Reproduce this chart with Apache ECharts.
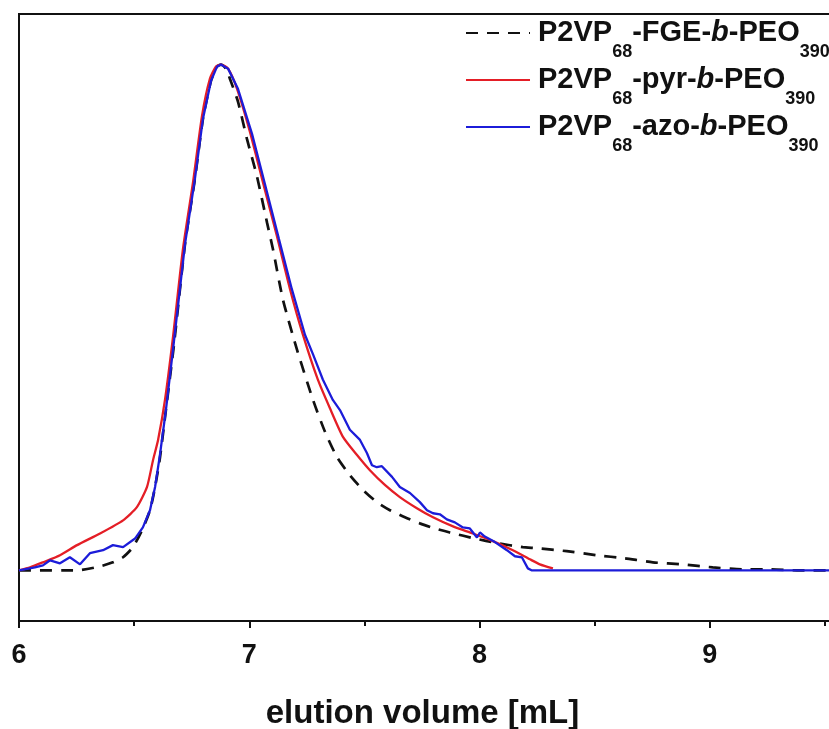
<!DOCTYPE html>
<html>
<head>
<meta charset="utf-8">
<script src="https://cdn.jsdelivr.net/npm/echarts@6/dist/echarts.min.js"></script>
<style>
  html, body { margin: 0; padding: 0; background: #ffffff; }
  #chart { width: 829px; height: 729px; }
</style>
</head>
<body>
<div id="chart"></div>
<script>
// SEC traces, normalised detector signal vs. elution volume (mL)
const seriesNames = ['P2VP68-FGE-b-PEO390', 'P2VP68-pyr-b-PEO390', 'P2VP68-azo-b-PEO390'];

const fgeVolume = [6.000, 6.050, 6.252, 6.352, 6.408, 6.452, 6.495, 6.538, 6.569, 6.591, 6.612, 6.638, 6.673, 6.721, 6.764, 6.799, 6.834, 6.860, 6.877, 6.899, 6.916, 6.951, 6.990, 7.033, 7.077, 7.103, 7.146, 7.207, 7.277, 7.329, 7.381, 7.437, 7.494, 7.554, 7.611, 7.676, 7.741, 7.806, 7.871, 7.980, 8.076, 8.188, 8.249, 8.379, 8.510, 8.631, 8.753, 8.883, 9.013, 9.144, 9.261, 9.391, 9.517, 10.000];
const fgeSignal = [0.000, 0.000, 0.000, 0.008, 0.016, 0.026, 0.046, 0.083, 0.119, 0.165, 0.222, 0.317, 0.446, 0.645, 0.774, 0.893, 0.968, 0.996, 1.000, 0.992, 0.972, 0.927, 0.853, 0.780, 0.688, 0.635, 0.536, 0.437, 0.337, 0.274, 0.224, 0.188, 0.159, 0.135, 0.119, 0.105, 0.093, 0.083, 0.075, 0.063, 0.054, 0.046, 0.044, 0.038, 0.030, 0.024, 0.016, 0.012, 0.006, 0.002, 0.002, 0.000, 0.000, 0.000];

const pyrVolume = [6.000, 6.048, 6.104, 6.178, 6.252, 6.352, 6.452, 6.512, 6.556, 6.582, 6.604, 6.634, 6.669, 6.712, 6.756, 6.795, 6.829, 6.855, 6.877, 6.908, 6.947, 7.003, 7.059, 7.120, 7.177, 7.233, 7.298, 7.350, 7.407, 7.468, 7.524, 7.589, 7.654, 7.728, 7.798, 7.885, 7.971, 8.058, 8.145, 8.219, 8.262, 8.319];
const pyrSignal = [0.000, 0.006, 0.016, 0.030, 0.050, 0.073, 0.099, 0.125, 0.165, 0.218, 0.258, 0.337, 0.462, 0.635, 0.768, 0.899, 0.972, 0.996, 1.000, 0.992, 0.952, 0.867, 0.768, 0.661, 0.556, 0.466, 0.377, 0.321, 0.264, 0.228, 0.198, 0.169, 0.145, 0.123, 0.105, 0.087, 0.073, 0.058, 0.040, 0.022, 0.012, 0.004];

const azoVolume = [6.000, 6.069, 6.104, 6.135, 6.178, 6.221, 6.265, 6.308, 6.365, 6.408, 6.452, 6.504, 6.538, 6.569, 6.591, 6.612, 6.638, 6.669, 6.721, 6.764, 6.799, 6.834, 6.860, 6.877, 6.908, 6.951, 7.012, 7.068, 7.129, 7.185, 7.242, 7.277, 7.320, 7.363, 7.394, 7.437, 7.481, 7.511, 7.533, 7.554, 7.576, 7.620, 7.654, 7.698, 7.741, 7.772, 7.798, 7.828, 7.858, 7.893, 7.928, 7.958, 7.989, 8.002, 8.023, 8.067, 8.119, 8.154, 8.184, 8.210, 8.228, 9.000, 10.000];
const azoSignal = [0.000, 0.006, 0.010, 0.020, 0.014, 0.026, 0.012, 0.034, 0.040, 0.050, 0.046, 0.063, 0.085, 0.119, 0.165, 0.228, 0.317, 0.437, 0.645, 0.774, 0.893, 0.968, 0.996, 1.000, 0.992, 0.952, 0.863, 0.764, 0.655, 0.556, 0.466, 0.427, 0.377, 0.337, 0.317, 0.278, 0.258, 0.232, 0.208, 0.204, 0.206, 0.185, 0.165, 0.153, 0.135, 0.119, 0.113, 0.111, 0.101, 0.095, 0.085, 0.083, 0.065, 0.075, 0.067, 0.056, 0.040, 0.028, 0.026, 0.004, 0.000, 0.000, 0.000];

const xTicks = { min: 6, max: 10, step: 1 };

const FONT = '"Liberation Sans", Arial, sans-serif';
const pairs = (xs, ys) => xs.map((x, i) => [x, ys[i]]);

// legend labels with subscripts and italic block marker
const legendRich = {
  f: { fontFamily: FONT, fontWeight: 'bold', fontSize: 29, color: '#111', lineHeight: 30, verticalAlign: 'top', padding: [0, 0, 0, 3] },
  n: { fontFamily: FONT, fontWeight: 'bold', fontSize: 29, color: '#111', lineHeight: 30, verticalAlign: 'top' },
  i: { fontFamily: FONT, fontWeight: 'bold', fontStyle: 'italic', fontSize: 29, color: '#111', lineHeight: 30, verticalAlign: 'top' },
  s: { fontFamily: FONT, fontWeight: 'bold', fontSize: 18, color: '#111', lineHeight: 14, verticalAlign: 'top', padding: [25, 0, 0, 0] }
};
function legendLabel(name) {
  const m = name.match(/^P2VP(\d+)-(\w+)-b-PEO(\d+)$/);
  return '{f|P2VP}{s|' + m[1] + '}{n|-' + m[2] + '-}{i|b}{n|-PEO}{s|' + m[3] + '}';
}

const chart = echarts.init(document.getElementById('chart'), null, { renderer: 'canvas' });
chart.setOption({
  animation: false,
  backgroundColor: '#ffffff',
  grid: {
    left: 19, top: 14, width: 921, height: 607,
    outerBoundsMode: 'none', containLabel: false,
    show: true, borderColor: '#111', borderWidth: 2, backgroundColor: 'transparent'
  },
  legend: {
    orient: 'vertical',
    left: 465, top: 18, padding: 0,
    itemWidth: 64, itemHeight: 14, itemGap: 4,
    formatter: legendLabel,
    textStyle: { rich: legendRich },
    itemStyle: { opacity: 0 },
    data: seriesNames
  },
  xAxis: {
    type: 'value',
    min: xTicks.min, max: xTicks.max, interval: xTicks.step,
    name: 'elution volume [mL]',
    nameLocation: 'middle',
    nameGap: 76,
    nameTextStyle: { fontFamily: FONT, fontWeight: 'bold', fontSize: 33, color: '#111', padding: [0, 114, 0, 0] },
    axisLine: { show: true, onZero: false, lineStyle: { color: '#111', width: 2 } },
    axisTick: { show: true, inside: false, length: 7, lineStyle: { color: '#111', width: 2 } },
    minorTick: { show: true, splitNumber: 2, length: 5, lineStyle: { color: '#111', width: 2 } },
    axisLabel: { fontFamily: FONT, fontWeight: 'bold', fontSize: 27, color: '#111', margin: 21 },
    splitLine: { show: false }
  },
  yAxis: {
    type: 'value', min: -0.1, max: 1.1,
    axisLine: { show: false }, axisTick: { show: false },
    axisLabel: { show: false }, splitLine: { show: false }
  },
  series: [
    {
      name: seriesNames[0], type: 'line', data: pairs(fgeVolume, fgeSignal),
      showSymbol: false, symbol: 'none', smooth: 0.2, z: 3,
      lineStyle: { color: '#111', width: 2.7, type: [12, 9] },
      itemStyle: { color: '#111', opacity: 0 }
    },
    {
      name: seriesNames[1], type: 'line', data: pairs(pyrVolume, pyrSignal),
      showSymbol: false, symbol: 'none', smooth: 0.2, z: 4,
      lineStyle: { color: '#e41e26', width: 2.3 },
      itemStyle: { color: '#e41e26', opacity: 0 }
    },
    {
      name: seriesNames[2], type: 'line', data: pairs(azoVolume, azoSignal),
      showSymbol: false, symbol: 'none', z: 5,
      lineStyle: { color: '#1c1cd9', width: 2.3 },
      itemStyle: { color: '#1c1cd9', opacity: 0 }
    }
  ]
});
</script>
</body>
</html>
